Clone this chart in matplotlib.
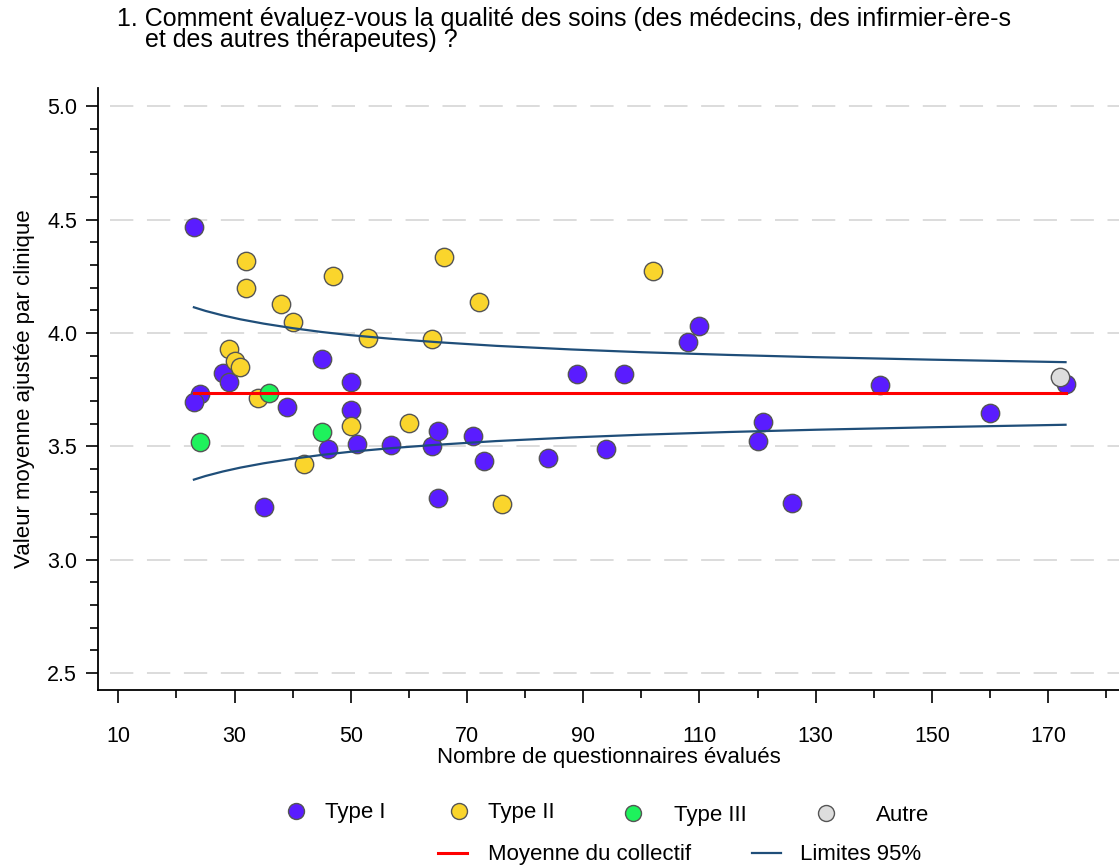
import matplotlib
matplotlib.use("Agg")
import matplotlib.pyplot as plt
from matplotlib.lines import Line2D
from matplotlib.ticker import MultipleLocator

plt.rcParams['font.family'] = ['Liberation Sans', 'DejaVu Sans']

# Clinics by type: number of evaluated questionnaires and adjusted mean score
type1_n = [23, 24, 23, 28, 29, 45, 50, 50, 39, 46, 51, 57, 64, 65, 71, 73, 35, 65,
           84, 94, 89, 97, 108, 110, 141, 173, 160, 121, 120, 126]
type1_val = [4.465, 3.730, 3.696, 3.823, 3.783, 3.883, 3.782, 3.661, 3.673, 3.486,
             3.510, 3.505, 3.502, 3.567, 3.544, 3.437, 3.233, 3.273, 3.447, 3.488,
             3.820, 3.821, 3.959, 4.029, 3.771, 3.776, 3.649, 3.607, 3.523, 3.251]

type2_n = [32, 32, 38, 40, 47, 66, 72, 53, 64, 29, 30, 31, 50, 34, 60, 42, 76, 102]
type2_val = [4.318, 4.200, 4.126, 4.050, 4.250, 4.333, 4.137, 3.977, 3.971, 3.929,
             3.877, 3.849, 3.588, 3.714, 3.604, 3.423, 3.245, 4.274]

type3_n = [36, 24, 45]
type3_val = [3.733, 3.517, 3.563]

other_n = [172]
other_val = [3.806]

# Overall mean and 95% limits along the range of questionnaire counts
mean_n = [23, 173]
mean_val = [3.733, 3.733]

limit_n = [23, 25, 28, 31, 35, 40, 45, 50, 57, 65, 75, 88, 100, 115, 130, 150, 173]
limit_upper = [4.113, 4.097, 4.077, 4.060, 4.041, 4.021, 4.004, 3.990, 3.974, 3.959,
               3.943, 3.927, 3.915, 3.903, 3.893, 3.882, 3.871]
limit_lower = [3.353, 3.369, 3.389, 3.406, 3.425, 3.445, 3.462, 3.476, 3.492, 3.507,
               3.523, 3.539, 3.551, 3.563, 3.573, 3.584, 3.595]

x_ticks = [10, 30, 50, 70, 90, 110, 130, 150, 170]
y_ticks = [2.5, 3.0, 3.5, 4.0, 4.5, 5.0]

type_labels = ['Type I', 'Type II', 'Type III', 'Autre']
type_colors = ['#5a1cff', '#fad52c', '#1ef25c', '#dddddd']

fig = plt.figure(figsize=(11.19, 8.68), dpi=100)
ax = fig.add_axes([0.0876, 0.205, 0.9124, 0.6936])

edge = '#555555'
msize = 175
series = [(type1_n, type1_val), (type2_n, type2_val), (type3_n, type3_val), (other_n, other_val)]
for (xs, ys), col, z in zip(series, type_colors, (3, 3, 3, 3.5)):
    ax.scatter(xs, ys, s=msize, color=col, edgecolor=edge, linewidth=1.0, zorder=z)

ax.plot(mean_n, mean_val, color='#ff0000', linewidth=2.2, zorder=4)
ax.plot(limit_n, limit_upper, color='#1f4e79', linewidth=1.6, zorder=4)
ax.plot(limit_n, limit_lower, color='#1f4e79', linewidth=1.6, zorder=4)

ax.set_xlim(6.5, 182.2)
ax.set_ylim(2.425, 5.08)

for y in y_ticks:
    ax.axhline(y, xmin=0.012, xmax=1.0, color='#dcdcdc', linewidth=1.4,
               dashes=(12, 7), zorder=1)

ax.set_xticks(x_ticks)
ax.set_xticklabels([str(v) for v in x_ticks])
ax.xaxis.set_minor_locator(MultipleLocator(10))
ax.set_yticks(y_ticks)
ax.set_yticklabels([f"{v:.1f}" for v in y_ticks])
ax.yaxis.set_minor_locator(MultipleLocator(0.1))

ax.tick_params(axis='both', which='major', direction='out', length=9, width=1.2,
               labelsize=15.5, color='black')
ax.tick_params(axis='both', which='minor', direction='out', length=5.5, width=1.2)
ax.tick_params(axis='x', which='major', pad=17)
ax.tick_params(axis='y', which='major', pad=6)

for side in ('top', 'right'):
    ax.spines[side].set_visible(False)
for side in ('left', 'bottom'):
    ax.spines[side].set_linewidth(1.3)

ax.set_xlabel('Nombre de questionnaires évalués', fontsize=16, labelpad=0)
ax.set_ylabel('Valeur moyenne ajustée par clinique', fontsize=16, labelpad=9)

fig.text(0.105, 0.992,
         "1. Comment évaluez-vous la qualité des soins (des médecins, des infirmier-ère-s\n"
         "    et des autres thérapeutes) ?",
         fontsize=18, va='top', ha='left', linespacing=0.85)

# Legend: clinic types on the first row, reference lines on the second
legend_fs = 16
type_anchor_x = [285, 448, 622, 815]
type_text_pad = [0.81, 0.81, 1.35, 1.76]
type_anchor_y = [0.0634, 0.0634, 0.061, 0.061]
for lab, col, ax_px, ay, tpad in zip(type_labels, type_colors, type_anchor_x,
                                     type_anchor_y, type_text_pad):
    h = Line2D([], [], linestyle='none', marker='o', markersize=11.5, markerfacecolor=col,
               markeredgecolor=edge, markeredgewidth=1.0)
    fig.legend([h], [lab], loc='center left', bbox_to_anchor=(ax_px / 1119, ay),
               frameon=False, fontsize=legend_fs, handlelength=1.0, handletextpad=tpad,
               borderpad=0, borderaxespad=0)

line_labels = ['Moyenne du collectif', 'Limites 95%']
line_styles = [('#ff0000', 2.2), ('#1f4e79', 1.6)]
line_anchor_x = [438, 752]
line_text_pad = [0.95, 0.86]
for lab, (col, lw), ax_px, tpad in zip(line_labels, line_styles, line_anchor_x, line_text_pad):
    h = Line2D([], [], color=col, linewidth=lw)
    fig.legend([h], [lab], loc='center left', bbox_to_anchor=(ax_px / 1119, 0.015),
               frameon=False, fontsize=legend_fs, handlelength=1.3, handletextpad=tpad,
               borderpad=0, borderaxespad=0)

fig.savefig('out.png', dpi=100)
